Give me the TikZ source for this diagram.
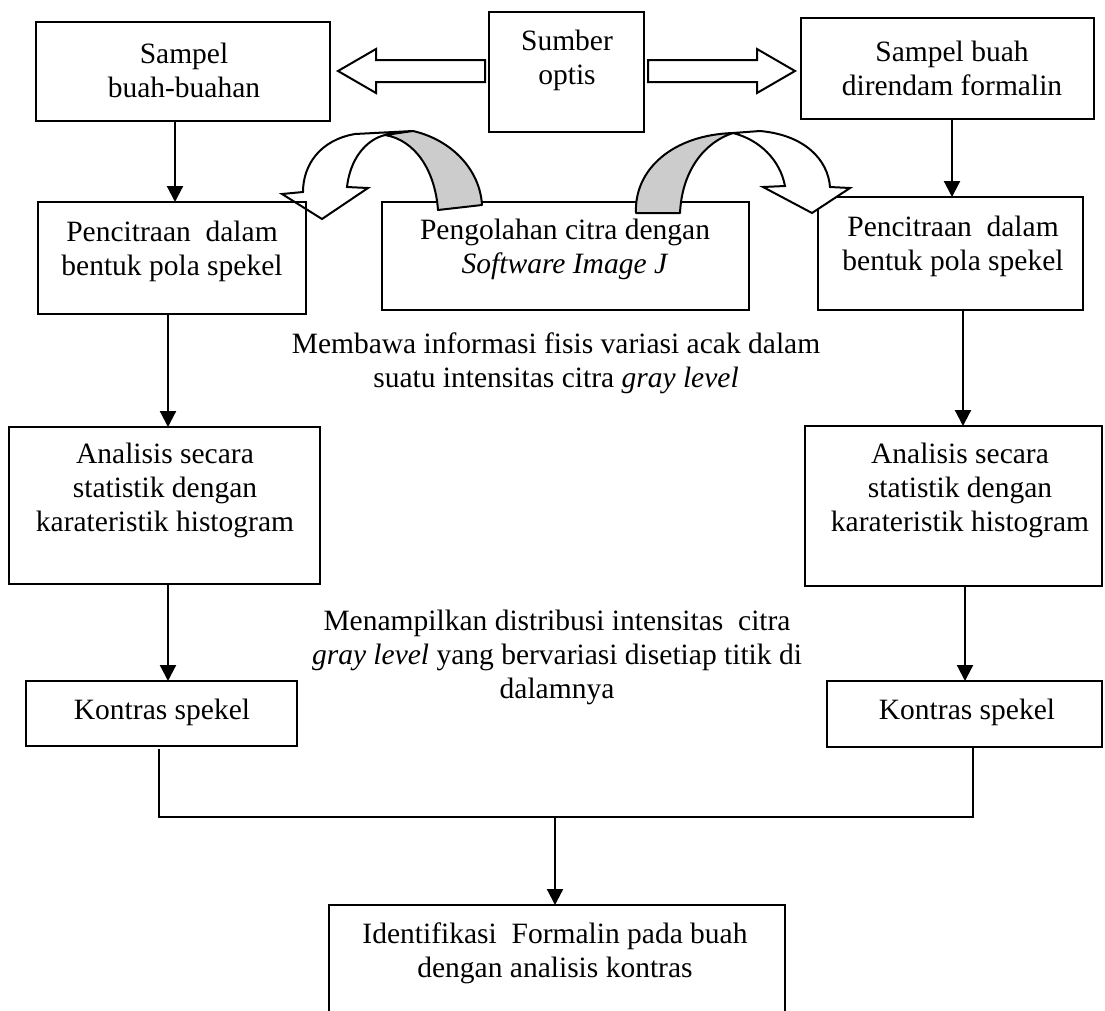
\documentclass[tikz,border=0pt]{standalone}
\usepackage{fontspec}
\setmainfont{Liberation Serif}
\usetikzlibrary{arrows.meta}
\newcommand{\mkbox}[5]{\node[box, minimum width={(#4-#2)*1pt}, minimum height={(#5-#3)*1pt}] (#1) at ({(#2+#4)/2},{(#3+#5)/2}) {};}
\begin{document}
\begin{tikzpicture}[x=1pt,y=-1pt,
  box/.style={draw=black, line width=2pt, inner sep=0pt, outer sep=0pt},
  txt/.style={align=center, inner sep=0pt, font=\fontsize{29.5}{34}\selectfont},
  conn/.style={line width=2.2pt, -{Triangle[length=16pt,width=16pt]}},
  plainline/.style={line width=2pt},
  blockarrow/.style={draw=black, line width=2pt, fill=white, line join=miter},
  ribbon/.style={draw=black, line width=2pt, fill=black!20, line join=round},
  ribbonw/.style={draw=black, line width=2pt, fill=white, line join=miter},
]
\useasboundingbox (0,0) rectangle (1105,1010);
\clip (0,0) rectangle (1105,1010);

% left curved arrow, white part (under the box lines)
\draw[ribbonw] (413,131) -- (355,134) .. controls (320,140) and (303,165) .. (303,192)
  -- (282,194) -- (322,219) -- (368,188) -- (347,187)
  .. controls (350,160) and (365,140) .. (385,135) -- cycle;

% boxes
\mkbox{samL}{36}{22}{330}{121}
\mkbox{sumber}{489}{12}{644}{132}
\mkbox{samR}{801}{18}{1094}{119}
\mkbox{penL}{38}{202}{306}{314}
\mkbox{olah}{382}{202}{749}{310}
\mkbox{penR}{818}{197}{1083}{310}
\mkbox{anaL}{9}{427}{320}{584}
\mkbox{anaR}{805}{426}{1102}{586}
\mkbox{konL}{26}{681}{297}{746}
\mkbox{konR}{827}{681}{1102}{747}
\mkbox{ident}{329}{905}{785}{1030}

% texts
\node[txt] (samLt) at (184,70) {Sampel\\buah-buahan};
\node[txt] (sumbert) at (567,60) {Sumber\\optis};
\node[txt] (samRt) at (952,68) {Sampel buah\\direndam formalin};
\node[txt] (penLt) at (172,251) {Pencitraan~ dalam\\bentuk pola spekel};
\node[txt] (olaht) at (565,249) {Pengolahan citra dengan\\\textit{Software Image J}};
\node[txt] (penRt) at (953,246) {Pencitraan~ dalam\\bentuk pola spekel};
\node[txt] (info1) at (556,363) {Membawa informasi fisis variasi acak dalam\\suatu intensitas citra \textit{gray level}};
\node[txt] (anaLt) at (165,490) {Analisis secara\\statistik dengan\\karateristik histogram};
\node[txt] (anaRt) at (960,490) {Analisis secara\\statistik dengan\\karateristik histogram};
\node[txt] (info2) at (557,657) {Menampilkan distribusi intensitas~ citra\\\textit{gray level} yang bervariasi disetiap titik di\\dalamnya};
\node[txt] (konLt) at (162,712) {Kontras spekel};
\node[txt] (konRt) at (967,712) {Kontras spekel};
\node[txt] (identt) at (555,953) {Identifikasi~ Formalin pada buah\\dengan analisis kontras};

% open block arrows from the light source
\draw[blockarrow] (485,60) -- (376,60) -- (376,49) -- (338,71) -- (376,93) -- (376,82) -- (485,82) -- cycle;
\draw[blockarrow] (648,60) -- (757,60) -- (757,49) -- (795,71) -- (757,93) -- (757,82) -- (648,82) -- cycle;

% left curved arrow, grey back
\draw[ribbon] (438,210) .. controls (435,170) and (415,140) .. (385,135) -- (413,131)
  .. controls (452,140) and (480,170) .. (482,205) -- cycle;

% right curved arrow
\draw[ribbon] (636,213) .. controls (634,170) and (672,135) .. (733,133)
  .. controls (705,142) and (682,170) .. (680,213) -- cycle;
\draw[ribbonw] (733,133) -- (760,131) .. controls (805,135) and (828,160) .. (830,187)
  -- (850,188) -- (812,213) -- (763,187) -- (785,186)
  .. controls (780,160) and (760,140) .. (733,133) -- cycle;

% connectors
\coordinate (cA) at (175,0);
\coordinate (cB) at (168,0);
\coordinate (cC) at (952,0);
\coordinate (cD) at (963,0);
\coordinate (cE) at (965,0);
\coordinate (cF) at (159,0);
\coordinate (cG) at (973,0);
\coordinate (jn) at (555,817);

\draw[conn] (samL.south -| cA) -- (penL.north -| cA);
\draw[conn] (penL.south -| cB) -- (anaL.north -| cB);
\draw[conn] (anaL.south -| cB) -- (konL.north -| cB);
\draw[conn] (samR.south -| cC) -- (penR.north -| cC);
\draw[conn] (penR.south -| cD) -- (anaR.north -| cD);
\draw[conn] (anaR.south -| cE) -- (konR.north -| cE);
\draw[plainline] ([yshift=-3pt]konL.south -| cF) -- (cF |- jn) -- (cG |- jn) -- (konR.south -| cG);
\draw[conn] (jn) -- (ident.north -| jn);
\end{tikzpicture}
\end{document}
